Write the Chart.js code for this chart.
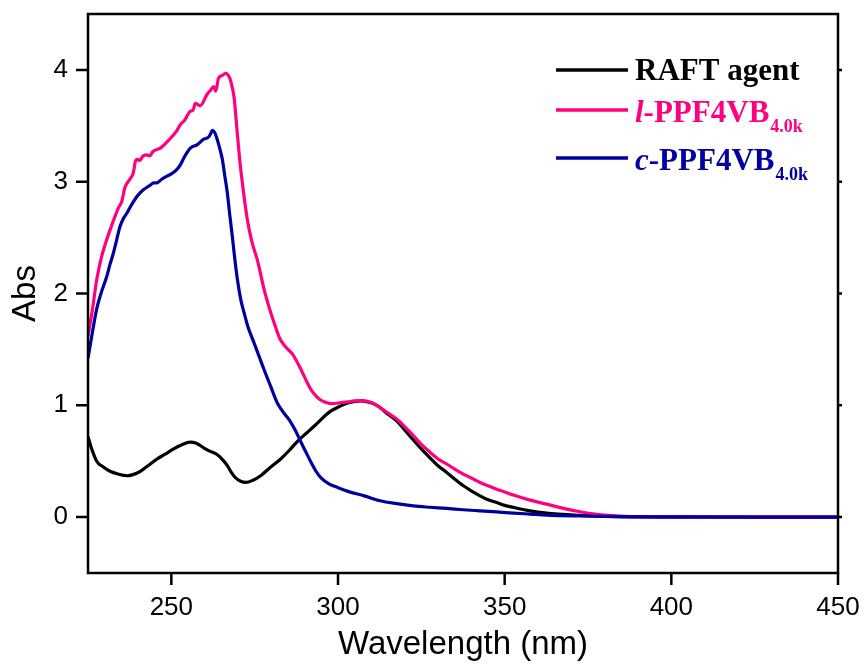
<!DOCTYPE html>
<html>
<head>
<meta charset="utf-8">
<title>Abs spectra</title>
<script src="https://cdn.jsdelivr.net/npm/chart.js@4.4.1/dist/chart.umd.min.js"></script>
<style>
  html, body { margin: 0; padding: 0; background: #fff; }
  #wrap { width: 868px; height: 666px; }
</style>
</head>
<body>
<div id="wrap"><canvas id="absChart" width="868" height="666"></canvas></div>
<script>
"use strict"
//Data (wavelength in nm, absorbance)

//RAFT agent
const raftWl = [225, 226, 227.6, 229.5, 231.6, 234, 236.7, 238.5, 240.7, 243, 245.7, 248, 250.7, 253, 255.7, 257.5, 259.7, 261.5, 263.7, 265.5, 266.8, 268, 269.3, 270.8, 272.3, 274.5, 276.8, 279.5, 282.8, 285.5, 287.9, 290.5, 292.9, 295.5, 297.9, 300.5, 302.9, 305, 306.9, 309, 311, 312.6, 315, 317.6, 320, 322.6, 325, 327.6, 330, 332.6, 335, 337.6, 340, 342.6, 345, 347.6, 350, 352.6, 357.6, 362.6, 367.6, 372.6, 380, 390, 400, 425, 450];
const raftAbs = [0.72, 0.62, 0.50, 0.45, 0.41, 0.385, 0.37, 0.38, 0.41, 0.46, 0.52, 0.56, 0.61, 0.645, 0.67, 0.66, 0.62, 0.59, 0.56, 0.51, 0.46, 0.40, 0.35, 0.32, 0.31, 0.33, 0.37, 0.44, 0.52, 0.60, 0.68, 0.75, 0.815, 0.89, 0.95, 0.99, 1.02, 1.035, 1.04, 1.03, 1.01, 0.98, 0.92, 0.86, 0.78, 0.69, 0.61, 0.53, 0.46, 0.40, 0.34, 0.28, 0.235, 0.19, 0.155, 0.13, 0.105, 0.087, 0.056, 0.036, 0.025, 0.015, 0.006, 0.002, 0, 0, 0];

//l-PPF4VB 4.0k (linear)
const linWl = [225, 226.3, 227.6, 229, 230.6, 232, 233.1, 234.2, 235.1, 236.1, 237.5, 238.6, 239.2, 239.8, 240.5, 241.5, 242.7, 243.5, 244.5, 246.7, 248.5, 250.7, 251.5, 252.7, 254, 255.7, 256.5, 257.2, 258.7, 260.7, 261.8, 262.7, 263.3, 264.2, 265.3, 266.3, 267.3, 267.8, 268.8, 269.8, 270.5, 271.3, 272.8, 274.2, 275.8, 277.8, 279.5, 280.8, 282.5, 283.8, 285, 286.3, 287.5, 288.9, 290.5, 291.9, 293.5, 294.9, 296.5, 297.9, 300, 302.9, 305, 307.9, 310, 312.6, 315, 317.6, 320, 322.6, 325, 327.6, 330, 332.6, 335, 337.6, 340, 342.6, 345, 347.6, 350, 352.6, 357.6, 362.6, 367.6, 372.6, 377, 381, 386, 392, 400, 425, 450];
const linAbs = [1.62, 1.85, 2.12, 2.32, 2.48, 2.60, 2.69, 2.77, 2.82, 2.95, 3.02, 3.08, 3.18, 3.20, 3.19, 3.23, 3.24, 3.23, 3.27, 3.30, 3.35, 3.42, 3.45, 3.51, 3.55, 3.63, 3.64, 3.70, 3.68, 3.78, 3.82, 3.85, 3.81, 3.93, 3.95, 3.97, 3.94, 3.90, 3.76, 3.43, 3.20, 2.99, 2.66, 2.46, 2.30, 2.04, 1.86, 1.74, 1.60, 1.54, 1.50, 1.46, 1.40, 1.32, 1.22, 1.14, 1.08, 1.045, 1.025, 1.015, 1.02, 1.03, 1.04, 1.04, 1.025, 0.98, 0.93, 0.877, 0.81, 0.73, 0.65, 0.58, 0.52, 0.475, 0.43, 0.385, 0.35, 0.31, 0.28, 0.25, 0.225, 0.197, 0.152, 0.116, 0.078, 0.048, 0.028, 0.015, 0.006, 0.002, 0, 0, 0];

//c-PPF4VB 4.0k (cyclic)
const cycWl = [225, 226.3, 227.6, 229, 230.6, 231.6, 232.6, 233.6, 234.6, 235.6, 236.7, 237.6, 238.6, 240, 241.7, 242.7, 243.7, 244.7, 245.7, 247, 248.7, 250, 251.7, 252.7, 253.7, 254.7, 255.7, 257.7, 259.7, 261.2, 261.8, 262.3, 263, 263.8, 264.5, 265.3, 266, 266.8, 267.5, 268.3, 269, 269.8, 270.8, 271.8, 273, 274.8, 276.3, 277.8, 279.8, 281.8, 283.8, 285.8, 287.3, 288.9, 290.4, 291.9, 293.4, 294.9, 297.4, 299.9, 303, 307.9, 312.6, 317.6, 322.6, 327.6, 332.6, 337.6, 342.6, 347.6, 352.6, 357.6, 362.6, 372.6, 385, 400, 425, 450];
const cycAbs = [1.42, 1.65, 1.86, 2.01, 2.15, 2.26, 2.36, 2.48, 2.60, 2.67, 2.72, 2.77, 2.82, 2.88, 2.93, 2.95, 2.97, 2.99, 2.99, 3.02, 3.05, 3.07, 3.11, 3.15, 3.21, 3.26, 3.30, 3.33, 3.38, 3.40, 3.43, 3.46, 3.44, 3.375, 3.30, 3.20, 3.06, 2.90, 2.71, 2.51, 2.32, 2.13, 1.95, 1.83, 1.70, 1.56, 1.44, 1.32, 1.17, 1.02, 0.93, 0.85, 0.77, 0.67, 0.58, 0.49, 0.41, 0.35, 0.295, 0.265, 0.23, 0.19, 0.146, 0.12, 0.10, 0.088, 0.078, 0.066, 0.056, 0.046, 0.036, 0.027, 0.018, 0.01, 0.004, 0.002, 0, 0];

//Tick labels shown on the axes
const xTickLabels = [250, 300, 350, 400, 450];
const yTickLabels = [0, 1, 2, 3, 4];

//Legend text, split in parts (italic prefix, name, subscript)
const legendParts = [
    [{text: "RAFT agent"}],
    [{text: "l", italic: true}, {text: "-PPF4VB"}, {text: "4.0k", sub: true}],
    [{text: "c", italic: true}, {text: "-PPF4VB"}, {text: "4.0k", sub: true}]
];

const colors = ["#000000", "#FF0080", "#0000A0"];
const sansFont = '"Liberation Sans", Arial, sans-serif';
const serifFont = '"Liberation Serif", "Times New Roman", serif';
const clear = "rgba(0,0,0,0)";

function toPoints(xs, ys) {
    return xs.map((x, i) => ({x: x, y: ys[i]}));
}

//Frame and tick marks like in Origin
const framePlugin = {
    id: "frame",
    afterDatasetsDraw(chart) {
        const {ctx, chartArea: a, scales: {x, y}} = chart;
        ctx.save();
        ctx.strokeStyle = "#000";
        ctx.lineWidth = 2.5;
        ctx.lineCap = "butt";
        ctx.strokeRect(a.left, a.top, a.right - a.left, a.bottom - a.top);
        ctx.beginPath();
        x.ticks.forEach(t => {
            const px = x.getPixelForValue(t.value);
            const len = t.value % 50 === 0 ? 12 : 7;
            ctx.moveTo(px, a.bottom);
            ctx.lineTo(px, a.bottom + len);
        });
        y.ticks.forEach(t => {
            const py = y.getPixelForValue(t.value);
            const len = Math.abs(t.value - Math.round(t.value)) < 1e-6 ? 12 : 6;
            ctx.moveTo(a.left, py);
            ctx.lineTo(a.left - len, py);
            ctx.moveTo(a.right, py);
            ctx.lineTo(a.right + 4, py);
        });
        ctx.stroke();
        ctx.restore();
    }
};

//Legend with italic prefix and subscript
const legendPlugin = {
    id: "richLegend",
    afterDraw(chart) {
        const ctx = chart.ctx;
        const lineY = [70, 110, 158];
        const baseY = [80, 121.7, 170];
        ctx.save();
        legendParts.forEach((parts, i) => {
            ctx.strokeStyle = colors[i];
            ctx.lineWidth = 3.5;
            ctx.beginPath();
            ctx.moveTo(556, lineY[i]);
            ctx.lineTo(628, lineY[i]);
            ctx.stroke();

            ctx.fillStyle = colors[i];
            ctx.textBaseline = "alphabetic";
            ctx.textAlign = "left";
            let tx = 635;
            parts.forEach(p => {
                if (p.sub) {
                    ctx.font = "bold 18px " + serifFont;
                    ctx.fillText(p.text, tx + 1, baseY[i] + 10);
                    tx += ctx.measureText(p.text).width + 1;
                } else {
                    ctx.font = (p.italic ? "italic " : "") + "bold 31px " + serifFont;
                    ctx.fillText(p.text, tx, baseY[i]);
                    tx += ctx.measureText(p.text).width;
                }
            });
        });
        ctx.restore();
    }
};

const ctx = document.getElementById("absChart").getContext("2d");

const absChart = new Chart(ctx, {
    type: "line",
    data: {
        datasets: [
            {label: "RAFT agent", data: toPoints(raftWl, raftAbs), borderColor: colors[0], order: 3},
            {label: "l-PPF4VB4.0k", data: toPoints(linWl, linAbs), borderColor: colors[1], order: 2},
            {label: "c-PPF4VB4.0k", data: toPoints(cycWl, cycAbs), borderColor: colors[2], order: 1}
        ]
    },
    options: {
        responsive: false,
        animation: false,
        devicePixelRatio: 1,
        layout: {padding: {top: 14, right: 30, left: 0, bottom: 0}},
        elements: {
            point: {radius: 0},
            line: {borderWidth: 3.2, cubicInterpolationMode: "monotone", fill: false}
        },
        plugins: {
            legend: {display: false},
            tooltip: {enabled: false}
        },
        scales: {
            x: {
                type: "linear",
                min: 225,
                max: 450,
                //invisible tick marks only used to push the labels down
                grid: {display: true, drawOnChartArea: false, drawTicks: true, tickLength: 22, color: clear, tickColor: clear},
                border: {display: false},
                ticks: {
                    stepSize: 25,
                    autoSkip: false,
                    maxRotation: 0,
                    padding: 0,
                    color: "#000",
                    font: {family: sansFont, size: 26, lineHeight: 1},
                    callback: v => xTickLabels.includes(v) ? String(v) : null
                },
                title: {
                    display: true,
                    text: "Wavelength (nm)",
                    color: "#000",
                    font: {family: sansFont, size: 33},
                    padding: {top: 0, bottom: 1}
                },
                afterFit: s => { s.height = 93; }
            },
            y: {
                type: "linear",
                min: -0.5,
                max: 4.5,
                grid: {display: true, drawOnChartArea: false, drawTicks: true, tickLength: 20, color: clear, tickColor: clear},
                border: {display: false},
                ticks: {
                    stepSize: 0.5,
                    autoSkip: false,
                    padding: 0,
                    color: "#000",
                    font: {family: sansFont, size: 26, lineHeight: 1},
                    callback: v => yTickLabels.includes(v) ? String(v) : null
                },
                title: {
                    display: true,
                    text: "Abs",
                    color: "#000",
                    font: {family: sansFont, size: 33},
                    padding: {top: 6, bottom: 0}
                },
                afterFit: s => { s.width = 88; }
            }
        }
    },
    plugins: [framePlugin, legendPlugin]
});
</script>
</body>
</html>
